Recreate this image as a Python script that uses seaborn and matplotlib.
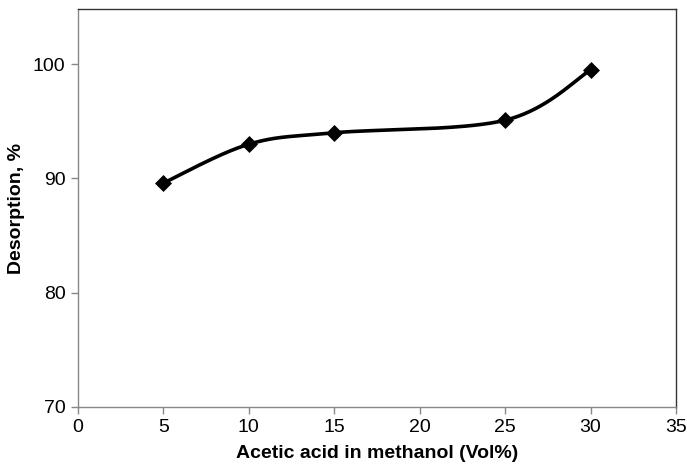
import numpy as np
import pandas as pd
import matplotlib
matplotlib.use("Agg")
import matplotlib.pyplot as plt
import seaborn as sns

acetic_pct = [5, 10, 15, 25, 30]
desorption = [89.6, 93.0, 94.0, 95.1, 99.5]
x_ticks = [0, 5, 10, 15, 20, 25, 30, 35]
y_ticks = [70, 80, 90, 100]

sns.set_theme(style="white")
plt.rcParams['font.family'] = ['Liberation Sans', 'DejaVu Sans']


def excel_smooth(xs, ys, n=40):
    xs = np.asarray(xs, float)
    ys = np.asarray(ys, float)
    P = np.column_stack([xs, ys])
    out = [P[0]]
    m = len(P)
    for i in range(m - 1):
        p0 = P[i - 1] if i > 0 else P[i]
        p1 = P[i]
        p2 = P[i + 1]
        p3 = P[i + 2] if i + 2 < m else P[i + 1]
        c1 = p1 + (p2 - p0) / 6.0
        c2 = p2 - (p3 - p1) / 6.0
        t = np.linspace(0, 1, n)[1:, None]
        seg = ((1 - t) ** 3) * p1 + 3 * ((1 - t) ** 2) * t * c1 + 3 * (1 - t) * t ** 2 * c2 + t ** 3 * p2
        out.extend(seg)
    out = np.array(out)
    return out[:, 0], out[:, 1]


sx, sy = excel_smooth(acetic_pct, desorption)
curve = pd.DataFrame({"x": sx, "y": sy})
pts = pd.DataFrame({"x": acetic_pct, "y": desorption})

fig = plt.figure(figsize=(6.87, 4.69), dpi=100)
ax = fig.add_axes([0.1135, 0.1322, 0.8705, 0.8478])

sns.lineplot(data=curve, x="x", y="y", sort=False, estimator=None, color="black",
             linewidth=2.6, ax=ax)
sns.scatterplot(data=pts, x="x", y="y", marker="D", s=75, color="black",
                edgecolor="black", linewidth=0, ax=ax, zorder=3)

ax.set_xlim(0, 35)
ax.set_ylim(70, 104.8)
ax.set_xticks(x_ticks)
ax.set_yticks(y_ticks)
ax.tick_params(axis="both", which="major", bottom=True, left=True, top=False, right=False,
               direction="out", length=5, width=1, color="#888888",
               labelsize=14, labelcolor="black", pad=4)

ax.set_xlabel("Acetic acid in methanol (Vol%)", fontsize=14, fontweight="bold",
              color="black", labelpad=6)
ax.set_ylabel("Desorption, %", fontsize=14, fontweight="bold", color="black", labelpad=6)

for side in ["left", "bottom"]:
    ax.spines[side].set_color("#888888")
    ax.spines[side].set_linewidth(1.0)
for side in ["top", "right"]:
    ax.spines[side].set_color("#333333")
    ax.spines[side].set_linewidth(1.0)
ax.grid(False)

fig.savefig("out.png", dpi=100)
